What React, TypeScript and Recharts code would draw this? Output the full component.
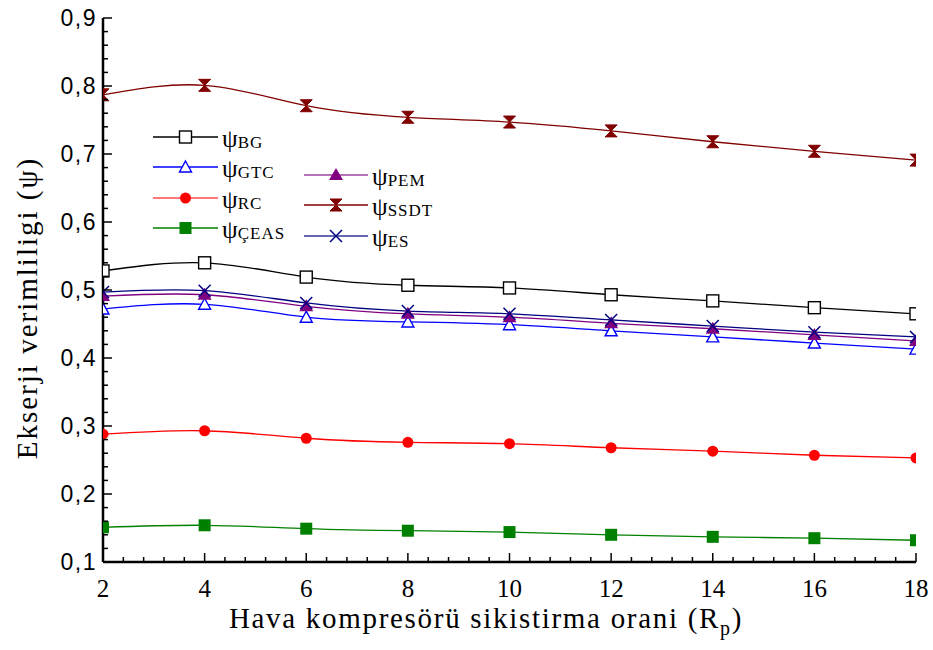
import React from 'react';
import { LineChart, Line, XAxis, YAxis } from 'recharts';

// compression ratio (x)
const rp = [2, 4, 6, 8, 10, 12, 14, 16, 18];

// exergy efficiencies
const psiBG = [0.528, 0.540, 0.519, 0.507, 0.503, 0.493, 0.484, 0.474, 0.465];
const psiGTC = [0.472, 0.479, 0.460, 0.453, 0.449, 0.440, 0.431, 0.422, 0.413];
const psiRC = [0.288, 0.293, 0.282, 0.276, 0.274, 0.268, 0.263, 0.257, 0.253];
const psiCEAS = [0.151, 0.154, 0.149, 0.146, 0.144, 0.140, 0.137, 0.135, 0.132];
const psiPEM = [0.491, 0.493, 0.476, 0.465, 0.460, 0.451, 0.443, 0.434, 0.425];
const psiSSDT = [0.787, 0.801, 0.771, 0.754, 0.747, 0.734, 0.718, 0.704, 0.691];
const psiES = [0.497, 0.499, 0.481, 0.469, 0.465, 0.456, 0.447, 0.438, 0.431];

const xMajor = [2, 4, 6, 8, 10, 12, 14, 16, 18];
const yMajor = [0.1, 0.2, 0.3, 0.4, 0.5, 0.6, 0.7, 0.8, 0.9];
const yLabels = ['0,1', '0,2', '0,3', '0,4', '0,5', '0,6', '0,7', '0,8', '0,9'];

const SERIF = '"Liberation Serif", "Times New Roman", serif';
const SANS = '"Liberation Sans", Arial, sans-serif';

// split every major interval into 5 minor steps
const withMinor = (major: number[]) => {
  const out: number[] = [];
  for (let i = 0; i < major.length - 1; i++) {
    const step = (major[i + 1] - major[i]) / 5;
    for (let k = 0; k < 5; k++) out.push(Number((major[i] + step * k).toFixed(4)));
  }
  out.push(major[major.length - 1]);
  return out;
};
const xTicks = withMinor(xMajor);
const yTicks = withMinor(yMajor);
const isMajor = (v: number, major: number[]) => major.some((m) => Math.abs(m - v) < 1e-6);

const data = rp.map((x, i) => ({
  rp: x,
  BG: psiBG[i],
  GTC: psiGTC[i],
  RC: psiRC[i],
  CEAS: psiCEAS[i],
  PEM: psiPEM[i],
  SSDT: psiSSDT[i],
  ES: psiES[i],
}));

type Marker = 'openSquare' | 'openTriangle' | 'circle' | 'square' | 'triangle' | 'hourglass' | 'cross';

const drawMarker = (kind: Marker, cx: number, cy: number, color: string, key?: string) => {
  switch (kind) {
    case 'openSquare':
      return <rect key={key} x={cx - 6} y={cy - 6} width={12} height={12} fill="#fff" stroke={color} strokeWidth={1.4} />;
    case 'openTriangle':
      return <polygon key={key} points={`${cx},${cy - 6} ${cx + 6},${cy + 5} ${cx - 6},${cy + 5}`} fill="#fff" stroke={color} strokeWidth={1.4} />;
    case 'circle':
      return <circle key={key} cx={cx} cy={cy} r={5.5} fill={color} />;
    case 'square':
      return <rect key={key} x={cx - 6} y={cy - 6} width={12} height={12} fill={color} />;
    case 'triangle':
      return <polygon key={key} points={`${cx},${cy - 7} ${cx + 7},${cy + 5} ${cx - 7},${cy + 5}`} fill={color} />;
    case 'hourglass':
      return (
        <path
          key={key}
          d={`M${cx - 6},${cy - 6} L${cx + 6},${cy - 6} L${cx},${cy} Z M${cx - 6},${cy + 6} L${cx + 6},${cy + 6} L${cx},${cy} Z`}
          fill={color}
          stroke={color}
          strokeWidth={1}
        />
      );
    case 'cross':
      return (
        <path key={key} d={`M${cx - 6},${cy - 6} L${cx + 6},${cy + 6} M${cx - 6},${cy + 6} L${cx + 6},${cy - 6}`} stroke={color} strokeWidth={1.5} fill="none" />
      );
  }
};

const series: { key: string; sub: string; color: string; legendLine: string; marker: Marker }[] = [
  { key: 'BG', sub: 'BG', color: '#000000', legendLine: '#000000', marker: 'openSquare' },
  { key: 'GTC', sub: 'GTC', color: '#0000ff', legendLine: '#0000ff', marker: 'openTriangle' },
  { key: 'RC', sub: 'RC', color: '#ff0000', legendLine: '#ff4d4d', marker: 'circle' },
  { key: 'CEAS', sub: 'ÇEAS', color: '#008000', legendLine: '#008000', marker: 'square' },
  { key: 'PEM', sub: 'PEM', color: '#800080', legendLine: '#a040a0', marker: 'triangle' },
  { key: 'SSDT', sub: 'SSDT', color: '#800000', legendLine: '#800000', marker: 'hourglass' },
  { key: 'ES', sub: 'ES', color: '#000080', legendLine: '#333399', marker: 'cross' },
];

// legend slots: [line start, line end, row y]
const legendSlots: Record<string, [number, number, number]> = {
  BG: [153, 218, 137],
  GTC: [153, 218, 167],
  RC: [153, 218, 198],
  CEAS: [153, 218, 228],
  PEM: [304, 368, 175],
  SSDT: [304, 368, 205],
  ES: [304, 368, 236],
};

const BottomTick = (props: any) => {
  const { x, y, payload } = props;
  const major = isMajor(payload.value, xMajor);
  return (
    <g>
      <line x1={x} y1={y} x2={x} y2={y - (major ? 9 : 5)} stroke="#000" strokeWidth={1.5} />
      {major && (
        <text x={x} y={y + 35} textAnchor="middle" fontFamily={SERIF} fontSize={25} fill="#000">
          {payload.value}
        </text>
      )}
    </g>
  );
};

const TopTick = (props: any) => {
  const { x, y, payload } = props;
  const major = isMajor(payload.value, xMajor);
  return <line x1={x} y1={y} x2={x} y2={y + (major ? 9 : 5)} stroke="#000" strokeWidth={1.5} />;
};

const LeftTick = (props: any) => {
  const { x, y, payload } = props;
  const idx = yMajor.findIndex((m) => Math.abs(m - payload.value) < 1e-6);
  const major = idx >= 0;
  return (
    <g>
      <line x1={x} y1={y} x2={x + (major ? 9 : 5)} y2={y} stroke="#000" strokeWidth={1.5} />
      {major && (
        <text x={x - 6} y={y + 8} textAnchor="end" fontFamily={SANS} fontSize={23} letterSpacing={1.5} fill="#000">
          {yLabels[idx]}
        </text>
      )}
    </g>
  );
};

const RightTick = (props: any) => {
  const { x, y, payload } = props;
  const major = isMajor(payload.value, yMajor);
  return <line x1={x} y1={y} x2={x - (major ? 9 : 5)} y2={y} stroke="#000" strokeWidth={1.5} />;
};

const axisLine = { stroke: '#000', strokeWidth: 2.5 };

export default function App() {
  return (
    <div style={{ position: 'absolute', left: 0, top: 0, width: 933, height: 650, background: '#fff' }}>
      <LineChart width={933} height={650} data={data} margin={{ top: 18, right: 17, left: 0, bottom: 0 }}>
        <XAxis
          xAxisId="bottom"
          dataKey="rp"
          type="number"
          domain={[2, 18]}
          allowDataOverflow
          ticks={xTicks}
          interval={0}
          height={88}
          tickSize={0}
          tickMargin={0}
          tickLine={false}
          axisLine={axisLine}
          tick={BottomTick}
        />
        <XAxis
          xAxisId="top"
          orientation="top"
          dataKey="rp"
          type="number"
          domain={[2, 18]}
          allowDataOverflow
          ticks={xTicks}
          interval={0}
          height={0}
          tickSize={0}
          tickMargin={0}
          tickLine={false}
          axisLine={axisLine}
          tick={TopTick}
        />
        <YAxis
          yAxisId="left"
          type="number"
          domain={[0.1, 0.9]}
          allowDataOverflow
          ticks={yTicks}
          interval={0}
          width={103}
          tickSize={0}
          tickMargin={0}
          tickLine={false}
          axisLine={axisLine}
          tick={LeftTick}
        />
        <YAxis
          yAxisId="right"
          orientation="right"
          type="number"
          domain={[0.1, 0.9]}
          allowDataOverflow
          ticks={yTicks}
          interval={0}
          width={0}
          tickSize={0}
          tickMargin={0}
          tickLine={false}
          axisLine={axisLine}
          tick={RightTick}
        />
        {series.map((s) => (
          <Line
            key={s.key}
            xAxisId="bottom"
            yAxisId="left"
            dataKey={s.key}
            type="natural"
            stroke={s.color}
            strokeWidth={1.3}
            isAnimationActive={false}
            activeDot={false}
            dot={(p: any) => drawMarker(s.marker, p.cx, p.cy, s.color, `${s.key}-${p.index}`)}
          />
        ))}
        <Line
          xAxisId="top"
          yAxisId="right"
          dataKey="BG"
          stroke="none"
          dot={false}
          activeDot={false}
          isAnimationActive={false}
        />
      </LineChart>
      <svg width={933} height={650} style={{ position: 'absolute', left: 0, top: 0, pointerEvents: 'none' }}>
        {series.map((s) => {
          const [x1, x2, y] = legendSlots[s.key];
          const mid = (x1 + x2) / 2;
          return (
            <g key={s.key}>
              <line x1={x1} y1={y} x2={x2} y2={y} stroke={s.legendLine} strokeWidth={1.5} />
              {drawMarker(s.marker, mid, y, s.color)}
              <text x={x2 + 4} y={y + 10} fontFamily={SERIF} fill="#000">
                <tspan fontSize={25}>ψ</tspan>
                <tspan fontSize={17} letterSpacing={1} dy={1}>{s.sub}</tspan>
              </text>
            </g>
          );
        })}
        <text x={486} y={628} textAnchor="middle" fontFamily={SERIF} fontSize={29} letterSpacing={1.7} fill="#000">
          Hava kompresörü sikistirma orani (R<tspan fontSize={20} dy={7}>p</tspan>
          <tspan dy={-7}>)</tspan>
        </text>
        <text
          transform="translate(37, 308) rotate(-90)"
          textAnchor="middle"
          fontFamily={SERIF}
          fontSize={29}
          letterSpacing={2}
          fill="#000"
        >
          Ekserji verimliligi (ψ)
        </text>
      </svg>
    </div>
  );
}
